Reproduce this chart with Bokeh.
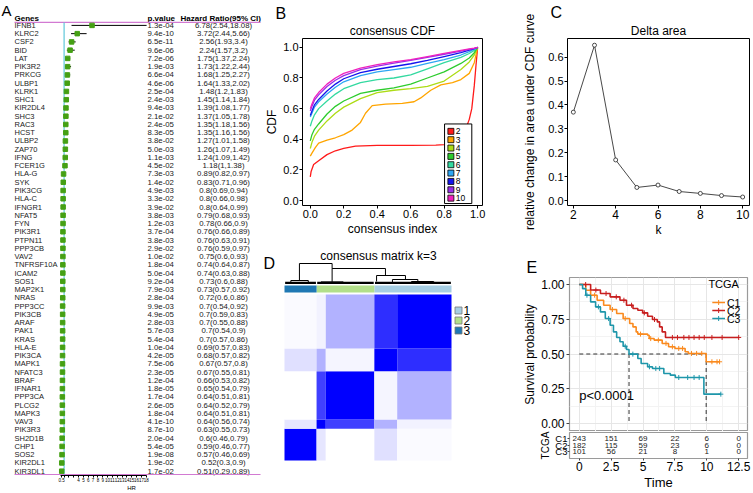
import numpy as np
from bokeh.plotting import figure
from bokeh.models import (Range1d, LinearAxis, FixedTicker, Title, PrintfTickFormatter, Grid,
                          ColumnDataSource)
from bokeh.layouts import row, column
from bokeh.embed import file_html
from bokeh.resources import INLINE
from bokeh.core.properties import value

FONT = "Liberation Sans"

# ---------------- Panel A : forest plot data ----------------
GENES = ["IFNB1", "KLRC2", "CSF2", "BID", "LAT", "PIK3R2", "PRKCG", "ULBP1", "KLRK1", "SHC1",
         "KIR2DL4", "SHC3", "RAC3", "HCST", "ULBP2", "ZAP70", "IFNG", "FCER1G", "HLA-G", "SYK",
         "PIK3CG", "HLA-C", "IFNGR1", "NFAT5", "FYN", "PIK3R1", "PTPN11", "PPP3CB", "VAV2", "TNFRSF10A",
         "ICAM2", "SOS1", "MAP2K1", "NRAS", "PPP3CC", "PIK3CB", "ARAF", "PAK1", "KRAS", "HLA-E",
         "PIK3CA", "MAPK1", "NFATC3", "BRAF", "IFNAR1", "PPP3CA", "PLCG2", "MAPK3", "VAV3", "PIK3R3",
         "SH2D1B", "CHP1", "SOS2", "KIR2DL1", "KIR3DL1"]
PVALUES = ["1.3e-04", "9.4e-10", "6.5e-11", "9.6e-06", "7.2e-06", "1.9e-03", "6.6e-04", "4.6e-06", "2.5e-04", "2.4e-03",
           "9.4e-03", "2.1e-02", "2.4e-05", "8.3e-05", "3.8e-02", "5.0e-03", "1.1e-03", "4.5e-02", "7.3e-03", "1.4e-02",
           "4.9e-03", "3.3e-02", "3.9e-02", "3.8e-03", "1.2e-03", "3.7e-04", "3.8e-03", "2.9e-02", "1.0e-02", "1.8e-04",
           "5.0e-04", "9.2e-04", "7.9e-03", "2.8e-04", "9.9e-03", "4.9e-05", "2.8e-03", "5.7e-03", "5.4e-04", "1.0e-04",
           "4.2e-05", "7.5e-06", "2.3e-05", "1.2e-04", "1.8e-05", "1.7e-04", "2.6e-05", "1.8e-04", "4.1e-10", "8.7e-10",
           "2.0e-04", "5.4e-05", "1.9e-08", "1.9e-02", "1.7e-02"]
HR = [6.78, 3.72, 2.56, 2.24, 1.75, 1.73, 1.68, 1.64, 1.48, 1.45, 1.39, 1.37, 1.35, 1.35, 1.27, 1.26, 1.24, 1.18,
      0.89, 0.83, 0.8, 0.8, 0.8, 0.79, 0.78, 0.76, 0.76, 0.76, 0.75, 0.74, 0.74, 0.73, 0.73, 0.72, 0.7, 0.7, 0.7,
      0.7, 0.7, 0.69, 0.68, 0.67, 0.67, 0.66, 0.65, 0.64, 0.64, 0.64, 0.64, 0.63, 0.6, 0.59, 0.57, 0.52, 0.51]
HR_LOW = [2.54, 2.44, 1.93, 1.57, 1.37, 1.22, 1.25, 1.33, 1.2, 1.14, 1.08, 1.05, 1.18, 1.16, 1.01, 1.07, 1.09, 1,
          0.82, 0.71, 0.69, 0.66, 0.64, 0.68, 0.66, 0.66, 0.63, 0.59, 0.6, 0.64, 0.63, 0.6, 0.57, 0.6, 0.54, 0.59, 0.55,
          0.54, 0.57, 0.57, 0.57, 0.57, 0.55, 0.53, 0.54, 0.51, 0.52, 0.51, 0.56, 0.55, 0.46, 0.46, 0.46, 0.3, 0.29]
HR_HIGH = [18.08, 5.66, 3.4, 3.2, 2.24, 2.44, 2.27, 2.02, 1.83, 1.84, 1.77, 1.78, 1.56, 1.56, 1.58, 1.49, 1.42, 1.38,
           0.97, 0.96, 0.94, 0.98, 0.99, 0.93, 0.9, 0.89, 0.91, 0.97, 0.93, 0.87, 0.88, 0.88, 0.92, 0.86, 0.92, 0.83, 0.88,
           0.9, 0.86, 0.83, 0.82, 0.8, 0.81, 0.82, 0.79, 0.81, 0.79, 0.81, 0.74, 0.73, 0.79, 0.77, 0.69, 0.9, 0.89]
HR_TICKS = [0.5] + list(range(1, 19))
HR_HIDDEN_TICKS = [1, 2, 3]

# ---------------- Panel B : consensus CDF ----------------
K_VALUES = [2, 3, 4, 5, 6, 7, 8, 9, 10]
CDF_COLORS = ["#FF1A1A", "#FFA500", "#ADDC16", "#2ECC2E", "#33D9A0", "#2EA6F2", "#1414EE", "#9A2EE8", "#F021BE"]
CDF_GRID = [0, 0.01, 0.025, 0.05, 0.1, 0.15, 0.2, 0.3, 0.4, 0.5, 0.6, 0.7, 0.8, 0.9, 0.95, 0.98, 1.0]
CDF_K4 = [0.34, 0.38, 0.42, 0.46, 0.52, 0.57, 0.61, 0.665, 0.705, 0.72, 0.73, 0.745, 0.78, 0.855, 0.905, 0.95, 1.0]
CDF_K5 = [0.39, 0.43, 0.465, 0.50, 0.565, 0.615, 0.65, 0.70, 0.72, 0.735, 0.76, 0.80, 0.84, 0.895, 0.93, 0.965, 1.0]
CDF_K6 = [0.485, 0.52, 0.56, 0.60, 0.65, 0.695, 0.73, 0.77, 0.79, 0.80, 0.82, 0.86, 0.90, 0.935, 0.96, 0.98, 1.0]
CDF_K7 = [0.545, 0.57, 0.61, 0.645, 0.695, 0.74, 0.775, 0.815, 0.84, 0.855, 0.87, 0.895, 0.92, 0.95, 0.972, 0.988, 1.0]
CDF_K8 = [0.555, 0.585, 0.625, 0.66, 0.715, 0.76, 0.795, 0.835, 0.857, 0.875, 0.893, 0.915, 0.94, 0.965, 0.982, 0.992, 1.0]
CDF_K9 = [0.585, 0.615, 0.655, 0.69, 0.745, 0.785, 0.815, 0.855, 0.877, 0.897, 0.915, 0.935, 0.955, 0.975, 0.987, 0.994, 1.0]
CDF_K10 = [0.60, 0.63, 0.67, 0.705, 0.76, 0.80, 0.83, 0.865, 0.887, 0.905, 0.92, 0.94, 0.96, 0.98, 0.99, 0.995, 1.0]
CDF_K3_X = [0, 0.01, 0.03, 0.05, 0.1, 0.15, 0.2, 0.25, 0.3, 0.33, 0.37, 0.45, 0.55, 0.62, 0.66, 0.72, 0.78, 0.85, 0.9, 0.95, 0.98, 1.0]
CDF_K3 = [0.29, 0.31, 0.345, 0.375, 0.395, 0.41, 0.43, 0.46, 0.51, 0.57, 0.62, 0.63, 0.635, 0.645, 0.67, 0.72, 0.755, 0.77, 0.79, 0.83, 0.90, 1.0]
CDF_K2_X = [0, 0.005, 0.02, 0.05, 0.1, 0.15, 0.2, 0.27, 0.4, 0.6, 0.75, 0.8, 0.85, 0.9, 0.93, 0.95, 0.965, 0.98, 0.99, 1.0]
CDF_K2 = [0.155, 0.19, 0.235, 0.26, 0.30, 0.325, 0.34, 0.355, 0.36, 0.36, 0.362, 0.365, 0.38, 0.42, 0.47, 0.53, 0.60, 0.75, 0.88, 1.0]
CDF_TICKS = [0.0, 0.2, 0.4, 0.6, 0.8, 1.0]

# ---------------- Panel C : delta area ----------------
DELTA_K = [2, 3, 4, 5, 6, 7, 8, 9, 10]
DELTA_AREA = [0.37, 0.65, 0.17, 0.055, 0.065, 0.038, 0.03, 0.021, 0.015]
DELTA_YTICKS = [0.0, 0.1, 0.2, 0.3, 0.4, 0.5, 0.6]
DELTA_XTICKS = [2, 4, 6, 8, 10]

# ---------------- Panel D : consensus matrix ----------------
SEG_SIZES = [101, 29, 153, 72, 171]       # sample blocks: cluster3, cluster2a, cluster2b, cluster1a, cluster1b
SEG_CLUSTER = [3, 2, 2, 1, 1]
CONSENSUS = [
    [1.00, 0.10, 0.00, 0.12, 0.02],
    [0.10, 1.00, 0.75, 0.30, 0.05],
    [0.00, 0.75, 1.00, 0.04, 0.30],
    [0.12, 0.30, 0.04, 1.00, 0.82],
    [0.02, 0.05, 0.30, 0.82, 1.00],
]
CLUSTER_IDS = [1, 2, 3]
CLUSTER_COLORS = ["#A6CEE3", "#B2DF8A", "#1F78B4"]
# dendrogram merges: (x_left, x_right, h_left, h_right, h_top), x in samples, h in tree height
DENDRO = [
    (47, 150, 0.15, 0.75, 1.00),
    (150, 318, 0.08, 0.40, 0.75),
    (20, 75, 0.04, 0.06, 0.15),
    (115, 185, 0.03, 0.05, 0.08),
    (290, 381, 0.10, 0.20, 0.40),
    (340, 420, 0.06, 0.10, 0.20),
    (400, 470, 0.04, 0.05, 0.10),
]
DENDRO_BASE = [(2, 99), (103, 281), (285, 524)]

# ---------------- Panel E : survival ----------------
GROUPS = ["C1", "C2", "C3"]
GROUP_COLORS = ["#FA8A1E", "#C81E1E", "#1E96AA"]
C1_T = [0, 0.51, 0.89, 1.40, 1.91, 2.42, 2.93, 3.44, 3.95, 4.21, 4.46, 4.59, 5.36, 5.48, 5.87, 6.50, 7.00, 7.50, 8.30, 8.55, 9.95, 11.0]
C1_S = [1.0, 0.959, 0.923, 0.887, 0.851, 0.82, 0.791, 0.755, 0.719, 0.695, 0.659, 0.643, 0.635, 0.611, 0.60, 0.576, 0.552, 0.54, 0.516, 0.504, 0.444, 0.444]
C2_T = [0, 0.89, 1.66, 2.42, 3.19, 3.70, 4.21, 4.59, 4.97, 5.36, 5.74, 6.12, 6.30, 6.50, 6.76, 12.5]
C2_S = [1.0, 0.96, 0.935, 0.911, 0.887, 0.851, 0.827, 0.815, 0.796, 0.772, 0.748, 0.731, 0.695, 0.659, 0.619, 0.619]
C3_T = [0, 0.26, 0.51, 0.89, 1.28, 1.66, 2.04, 2.42, 2.68, 2.93, 3.19, 3.44, 3.70, 3.90, 4.59, 4.85, 5.36, 5.74, 6.63, 7.14, 7.53, 9.77, 11.1]
C3_S = [1.0, 0.97, 0.923, 0.875, 0.839, 0.803, 0.755, 0.707, 0.659, 0.619, 0.588, 0.556, 0.532, 0.499, 0.468, 0.432, 0.408, 0.396, 0.36, 0.348, 0.331, 0.211, 0.211]
C1_CENS = [1.2, 2.6, 3.6, 4.8, 5.6, 6.2, 6.8, 7.3, 7.8, 8.1, 8.8, 9.2, 9.6, 10.4, 10.8, 11.0]
C2_CENS = [0.5, 1.3, 2.1, 2.9, 3.5, 4.1, 5.1, 5.9, 7.3, 7.7, 8.2, 8.6, 9.0, 9.4, 9.8, 10.4, 11.2, 12.5]
C3_CENS = [0.6, 1.5, 2.3, 3.6, 4.2, 5.5, 6.0, 6.3, 7.8, 8.5, 9.0, 9.4, 11.1]
LEGEND_TITLE = "TCGA"
P_TEXT = "p<0.0001"
RISK_TIMES = [0, 2.5, 5, 7.5, 10, 12.5]
TIME_LABELS = ["0", "2.5", "5", "7.5", "10", "12.5"]
RISK_C1 = [243, 151, 69, 22, 6, 0]
RISK_C2 = [182, 115, 59, 23, 6, 0]
RISK_C3 = [101, 56, 21, 8, 1, 0]
SURV_TICKS = [0.0, 0.25, 0.5, 0.75, 1.0]

# ================= layout (page pixels) =================
A_W, B_W, C_W = 262, 258, 233
TOP_H, BOT_H = 245, 248


def new_fig(w, h, xr, yr, left, right, top, bottom, **kw):
    p = figure(width=w, height=h, x_range=xr, y_range=yr, output_backend="svg",
               toolbar_location=None, min_border_left=left, min_border_right=right,
               min_border_top=top, min_border_bottom=bottom, **kw)
    p.grid.visible = False
    p.background_fill_color = "white"
    p.border_fill_color = "white"
    return p


def style_axis(ax, tick_fs, lab_fs, tick_out=3, lstand=2, astand=3, tick_color="black"):
    ax.major_label_text_font = FONT
    ax.axis_label_text_font = FONT
    ax.major_label_text_font_size = tick_fs
    ax.axis_label_text_font_size = lab_fs
    ax.axis_label_text_font_style = "normal"
    ax.major_label_text_color = "black"
    ax.axis_label_text_color = "black"
    ax.minor_tick_line_color = None
    ax.major_tick_in = 0
    ax.major_tick_out = tick_out
    ax.major_tick_line_color = tick_color
    ax.major_label_standoff = lstand
    ax.axis_label_standoff = astand


def add_title(p, text, size, align, offset, standoff):
    p.add_layout(Title(text=text, align=align, offset=offset, standoff=standoff, text_font=FONT,
                       text_font_size=size, text_font_style="normal", text_color="black"), "above")


def txt(p, x, y, t, size, align="left", color="black", **kw):
    p.text(x=x, y=y, text=t, text_font=value(FONT), text_font_size=size, text_baseline="middle",
           text_align=align, text_color=color, **kw)


# ================= Panel A =================
ROW_Y0, ROW_DY = 25.0, 8.29


def rowpos(py):
    return (py - ROW_Y0) / ROW_DY


n = len(GENES)
rows = list(range(n))
pa = new_fig(A_W, TOP_H + BOT_H, Range1d(0, 262), Range1d(rowpos(477), rowpos(0)),
             0, 0, 0, TOP_H + BOT_H - 477, x_axis_location=None, y_axis_location=None)
pa.outline_line_color = None
HR1_PX, HR_PX_UNIT = 63.6, 4.83
pa.extra_x_ranges = {"hr": Range1d(1 - HR1_PX / HR_PX_UNIT, 1 + (262 - HR1_PX) / HR_PX_UNIT)}

hr_txt = [f"{h:g}({lo:g},{hi:g})" for h, lo, hi in zip(HR, HR_LOW, HR_HIGH)]
srcA = ColumnDataSource(dict(y=rows, gene=GENES, p=PVALUES, hr=hr_txt, v=HR, lo=HR_LOW, hi=HR_HIGH))
txt(pa, 14, "y", "gene", "7.5px", color="#222222", source=srcA)
txt(pa, 147, "y", "p", "7.8px", color="#222222", source=srcA)
txt(pa, 223, "y", "hr", "7.8px", align="center", color="#222222", source=srcA)
pa.text(x=[14, 147, 180], y=[rowpos(18)] * 3, text=["Genes", "p.value", "Hazard Ratio(95% CI)"],
        text_font=value(FONT), text_font_size="8px", text_font_style="bold", text_baseline="middle",
        text_align="left", text_color="black")
txt(pa, [1], [rowpos(10)], ["A"], "15px")
pa.segment(x0=[14, 14], x1=[260, 260], y0=[rowpos(22), rowpos(476)], y1=[rowpos(22), rowpos(476)],
           line_color="#D27AD2", line_width=1.2)
pa.segment(x0=[1], x1=[1], y0=[rowpos(22)], y1=[rowpos(476)], x_range_name="hr",
           line_color="#5FC8DA", line_width=1.2)
pa.segment(x0="lo", x1="hi", y0="y", y1="y", source=srcA, x_range_name="hr", line_color="black", line_width=1)
pa.scatter(x="v", y="y", source=srcA, x_range_name="hr", marker="square", size=4.5,
           fill_color="#45A014", line_color="#45A014")
axA = LinearAxis(x_range_name="hr", bounds=(0.3, 18.08), ticker=FixedTicker(ticks=HR_TICKS), axis_label="HR")
axA.major_label_overrides = {t: "" for t in HR_HIDDEN_TICKS}
style_axis(axA, "4.5px", "6px", tick_out=2, lstand=0, astand=0)
axA.axis_line_width = 1
pa.add_layout(axA, "below")

# ================= Panel B =================
bx_u, by_u = (477 - 305) / 1.0, (200 - 44) / 1.0
bx = Range1d(-(305 - 297) / bx_u, 1 + (482 - 477) / bx_u)
by = Range1d(-(205 - 200) / by_u, 1 + (44 - 35) / by_u)
pb = new_fig(B_W, TOP_H, bx, by, 297 - 262, 520 - 482, 35, 245 - 205)
pb.outline_line_color = "black"
pb.outline_line_width = 1
cdf_x = [CDF_K2_X, CDF_K3_X] + [CDF_GRID] * 7
cdf_y = [CDF_K2, CDF_K3, CDF_K4, CDF_K5, CDF_K6, CDF_K7, CDF_K8, CDF_K9, CDF_K10]
for xs, ys, c in zip(cdf_x, cdf_y, CDF_COLORS):
    pb.line(x=xs, y=ys, line_color=c, line_width=1.3)


def bxp(px):
    return (px - 305) / bx_u


def byp(py):
    return (200 - py) / by_u


# legend box (drawn over the curves, as in the reference)
pb.quad(left=[bxp(443)], right=[bxp(471)], top=[byp(122)], bottom=[byp(203)],
        fill_color="white", line_color="black", line_width=1)
leg_rows = [byp(129.5 + 8.5 * i) for i in range(len(K_VALUES))]
pb.scatter(x=bxp(449.5), y=leg_rows, marker="square", size=6, fill_color=CDF_COLORS,
           line_color="black", line_width=0.8)
txt(pb, bxp(454.5), leg_rows, [str(k) for k in K_VALUES], "8.5px")
for ax in (pb.xaxis[0], pb.yaxis[0]):
    ax.ticker = FixedTicker(ticks=CDF_TICKS)
    ax.formatter = PrintfTickFormatter(format="%.1f")
    style_axis(ax, "11px", "12px", tick_out=3, lstand=1, astand=1)
    ax.axis_line_color = None
pb.xaxis.axis_label = "consensus index"
pb.yaxis.axis_label = "CDF"
add_title(pb, "consensus CDF", "12px", "center", 3, 1)
add_title(pb, "B", "16px", "left", 270 - 297, 0)

# ================= Panel C =================
cx_u = (742 - 568) / 8.0
cy_u = (203 - 57) / 0.6
cx = Range1d(2 - (568 - 562) / cx_u, 10 + (749 - 742) / cx_u)
cy = Range1d(-(208 - 203) / cy_u, 0.6 + (57 - 38) / cy_u)
pc = new_fig(C_W, TOP_H, cx, cy, 562 - 520, 753 - 749, 38, 245 - 208)
pc.outline_line_color = "black"
pc.outline_line_width = 1
pc.line(x=DELTA_K, y=DELTA_AREA, line_color="#333333", line_width=0.9)
pc.scatter(x=DELTA_K, y=DELTA_AREA, marker="circle", size=4, fill_color="white",
           line_color="#222222", line_width=0.8)
pc.xaxis.ticker = FixedTicker(ticks=DELTA_XTICKS)
pc.yaxis.ticker = FixedTicker(ticks=DELTA_YTICKS)
pc.yaxis.formatter = PrintfTickFormatter(format="%.1f")
style_axis(pc.xaxis[0], "12px", "12px", tick_out=3, lstand=1, astand=1)
style_axis(pc.yaxis[0], "11px", "12px", tick_out=3, lstand=1, astand=8)
pc.xaxis.axis_line_color = None
pc.yaxis.axis_line_color = None
pc.xaxis.axis_label = "k"
pc.yaxis.axis_label = "relative change in area under CDF curve"
add_title(pc, "Delta area", "12px", "center", 6, 2)
add_title(pc, "C", "16px", "left", 545 - 562, 0)

# ================= Panel D =================
N = sum(SEG_SIZES)
dpx = (451 - 284) / N
dpy = (460 - 294) / N
dxr = Range1d((262 - 284) / dpx, (520 - 284) / dpx)
dyr = Range1d((460 - 493) / dpy, (460 - 245) / dpy)
pd = new_fig(B_W, BOT_H, dxr, dyr, 0, 0, 0, 0, x_axis_location=None, y_axis_location=None)
pd.outline_line_color = None
edges = np.concatenate([[0], np.cumsum(SEG_SIZES)])
L, R, Bt, T, CC = [], [], [], [], []
for i in range(len(SEG_SIZES)):
    for j in range(len(SEG_SIZES)):
        v = CONSENSUS[i][j]
        g = int(round(255 * (1 - v)))
        L.append(edges[j]); R.append(edges[j + 1]); Bt.append(edges[i]); T.append(edges[i + 1])
        CC.append("#%02x%02xff" % (g, g))
pd.quad(left=L, right=R, bottom=Bt, top=T, fill_color=CC, line_color=None)
cl_edges = {}
for s, (a, b) in enumerate(zip(edges[:-1], edges[1:])):
    c = SEG_CLUSTER[s]
    lo, hi = cl_edges.get(c, (a, b))
    cl_edges[c] = (min(lo, a), max(hi, b))
bar_l = [cl_edges[c][0] for c in CLUSTER_IDS]
bar_r = [cl_edges[c][1] for c in CLUSTER_IDS]
pd.quad(left=bar_l, right=bar_r, bottom=(460 - 292) / dpy, top=(460 - 285) / dpy,
        fill_color=CLUSTER_COLORS, line_color=None)
pd.extra_y_ranges = {"dend": Range1d(-(493 - 283) / 20.0, 1 + (263 - 245) / 20.0)}
x0s, x1s, y0s, y1s = [], [], [], []
for xl, xr, hl, hr_, ht in DENDRO:
    x0s += [xl, xr, xl]; x1s += [xl, xr, xr]
    y0s += [hl, hr_, ht]; y1s += [ht, ht, ht]
pd.segment(x0=x0s, x1=x1s, y0=y0s, y1=y1s, y_range_name="dend", line_color="black", line_width=1)
pd.segment(x0=[a for a, b in DENDRO_BASE], x1=[b for a, b in DENDRO_BASE], y0=0.03, y1=0.03,
           y_range_name="dend", line_color="black", line_width=2.2)
leg_y = [(460 - 310) / dpy, (460 - 320) / dpy, (460 - 330) / dpy]
pd.scatter(x=(458 - 284) / dpx, y=leg_y, marker="square", size=7, fill_color=CLUSTER_COLORS,
           line_color="#777777", line_width=0.8)
txt(pd, (463 - 284) / dpx, leg_y, [str(c) for c in CLUSTER_IDS], "12px")
txt(pd, [(378 - 284) / dpx], [(460 - 255) / dpy], ["consensus matrix k=3"], "12px", align="center")
txt(pd, [(263 - 284) / dpx], [(460 - 263) / dpy], ["D"], "16px")

# ================= Panel E (survival) =================
ex_u = (738 - 575) / 12.5
ey_u = (423 - 284) / 1.0
exr = Range1d(-(575 - 565) / ex_u, 12.5 + (747 - 738) / ex_u)
eyr = Range1d(-(431 - 423) / ey_u, 1 + (284 - 277) / ey_u)
E1_H = 431 - 245
E2_H = BOT_H - E1_H
pe1 = new_fig(C_W, E1_H, exr, eyr, 565 - 520, 753 - 747, 277 - 245, 0, x_axis_location=None)
pe1.outline_line_color = "#9A9A9A"
pe1.outline_line_width = 1.2
minor_t = [(a + b) / 2 for a, b in zip(RISK_TIMES[:-1], RISK_TIMES[1:])]
minor_s = [(a + b) / 2 for a, b in zip(SURV_TICKS[:-1], SURV_TICKS[1:])]
pe1.add_layout(Grid(dimension=0, ticker=FixedTicker(ticks=minor_t), grid_line_color="#F3F3F3"))
pe1.add_layout(Grid(dimension=1, ticker=FixedTicker(ticks=minor_s), grid_line_color="#F3F3F3"))
pe1.add_layout(Grid(dimension=0, ticker=FixedTicker(ticks=RISK_TIMES), grid_line_color="#E6E6E6"))
pe1.add_layout(Grid(dimension=1, ticker=FixedTicker(ticks=SURV_TICKS), grid_line_color="#E6E6E6"))


def step_at(Ts, Ss, t):
    i = int(np.searchsorted(Ts, t, side="right")) - 1
    return Ss[i]


def median_time(Ts, Ss):
    for t, s in zip(Ts, Ss):
        if s <= 0.5:
            return t
    return None


curves = [(C1_T, C1_S, C1_CENS), (C2_T, C2_S, C2_CENS), (C3_T, C3_S, C3_CENS)]
medians = [m for m in (median_time(t, s) for t, s, _ in curves) if m is not None]
pe1.segment(x0=[0] + medians, x1=[max(medians)] + medians, y0=[0.5] + [0.5] * len(medians),
            y1=[0.5] + [0.0] * len(medians), line_color="#333333", line_width=1, line_dash="4 3")
for (Ts, Ss, cens), c in zip(curves, GROUP_COLORS):
    pe1.step(x=Ts, y=Ss, mode="after", line_color=c, line_width=1.6)
    pe1.scatter(x=cens, y=[step_at(Ts, Ss, t) for t in cens], marker="cross", size=5,
                line_color=c, line_width=1)


def exp_(px):
    return (px - 575) / ex_u


def eyp(py):
    return (423 - py) / ey_u


# legend (inside the panel, top right)
legE_y = [eyp(302), eyp(310), eyp(318)]
txt(pe1, [exp_(707)], [eyp(283.5)], [LEGEND_TITLE], "11px")
pe1.segment(x0=exp_(711), x1=exp_(724), y0=legE_y, y1=legE_y, line_color=GROUP_COLORS, line_width=1.6)
pe1.scatter(x=exp_(717.5), y=legE_y, marker="cross", size=5, line_color=GROUP_COLORS, line_width=1)
txt(pe1, exp_(726), legE_y, GROUPS, "10.5px")
txt(pe1, [0.0], [0.2], [P_TEXT], "13px")
pe1.yaxis.ticker = FixedTicker(ticks=SURV_TICKS)
pe1.yaxis.formatter = PrintfTickFormatter(format="%.2f")
style_axis(pe1.yaxis[0], "12px", "12px", tick_out=3, lstand=2, astand=1, tick_color="#444444")
pe1.yaxis.axis_line_color = None
pe1.yaxis.axis_label = "Survival probability"
add_title(pe1, "E", "16px", "left", 522 - 565, 3)

# risk table
ry_u = 6.5
ryr = Range1d(1 - (458 - 451) / ry_u, 3 + (438 - 432) / ry_u)
pe2 = new_fig(C_W, E2_H, exr, ryr, 565 - 520, 753 - 747, 1, 493 - 458)
pe2.outline_line_color = "#9A9A9A"
pe2.outline_line_width = 1.2
risk_rows = [3, 2, 1]
rx, ryv, rt = [], [], []
for yv, counts in zip(risk_rows, (RISK_C1, RISK_C2, RISK_C3)):
    rx += RISK_TIMES; ryv += [yv] * len(RISK_TIMES); rt += [str(c) for c in counts]
txt(pe2, rx, ryv, rt, "8px", align="center", color="#222222")
pe2.xaxis.ticker = FixedTicker(ticks=RISK_TIMES)
pe2.xaxis.major_label_overrides = {t: s for t, s in zip(RISK_TIMES, TIME_LABELS)}
pe2.yaxis.ticker = FixedTicker(ticks=risk_rows)
pe2.yaxis.major_label_overrides = {yv: g for yv, g in zip(risk_rows, GROUPS)}
style_axis(pe2.xaxis[0], "12px", "13px", tick_out=2, lstand=1, astand=1, tick_color="#444444")
style_axis(pe2.yaxis[0], "9.5px", "10px", tick_out=2, lstand=0, astand=1, tick_color="#444444")
pe2.xaxis.axis_line_color = None
pe2.yaxis.axis_line_color = None
pe2.xaxis.axis_label = "Time"
pe2.yaxis.axis_label = LEGEND_TITLE

layout = row(pa, column(row(pb, pc, spacing=0),
                        row(pd, column(pe1, pe2, spacing=0), spacing=0), spacing=0), spacing=0)
open("out.html", "w").write(file_html(layout, INLINE))
